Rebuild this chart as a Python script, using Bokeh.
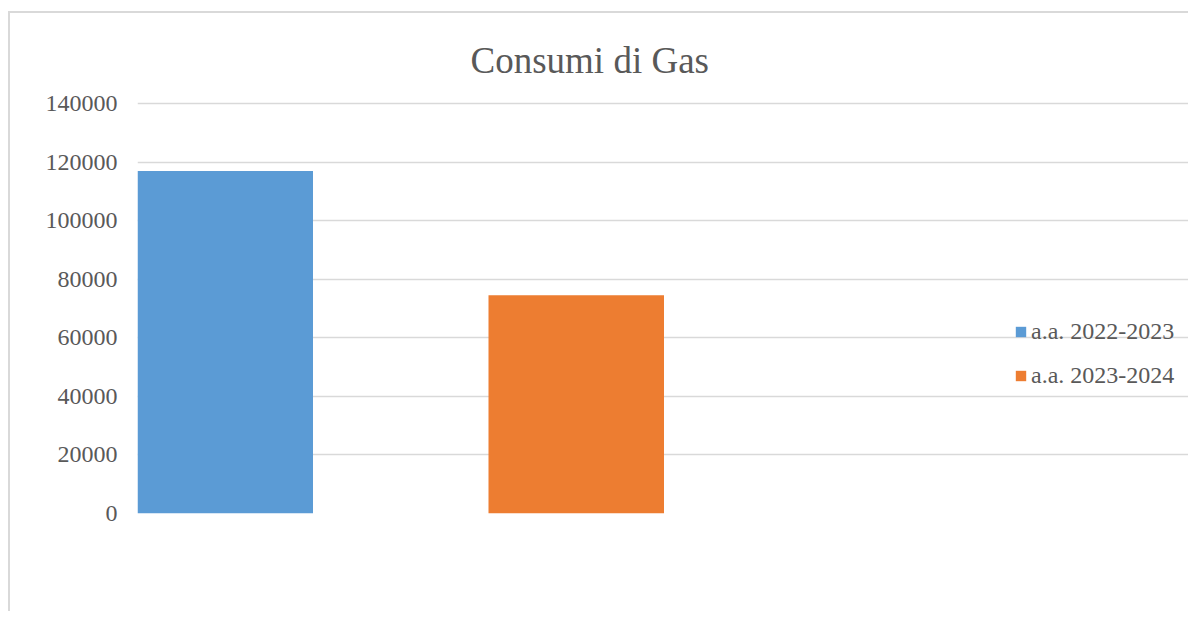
from bokeh.plotting import figure
from bokeh.models import ColumnDataSource, FactorRange, Range1d, Title, Legend, LegendItem, FixedTicker, BasicTickFormatter
from bokeh.transform import dodge
from bokeh.embed import file_html
from bokeh.resources import INLINE

# ---- data ----
title_text = "Consumi di Gas"
categories = ["a.a. 2022-2023", "a.a. 2023-2024"]
consumi = [117000, 74500]
colors = ["#5B9BD5", "#ED7D31"]
slots = categories + ["extra"]
y_ticks = [0, 20000, 40000, 60000, 80000, 100000, 120000, 140000]

FONT = "Liberation Serif"
TXT = "#595959"
GRID = "#D9D9D9"

p = figure(width=1180, height=600, output_backend="svg", toolbar_location=None,
           x_range=FactorRange(factors=slots, range_padding=0),
           y_range=Range1d(0, 140700),
           min_border_left=127, min_border_right=0, min_border_top=88, min_border_bottom=100)
p.styles = {"border-left": "2px solid #D9D9D9", "border-top": "2px solid #D9D9D9",
            "margin-top": "11px", "margin-left": "8px"}
p.outline_line_color = None
p.background_fill_color = "white"
p.border_fill_color = "white"

renderers = []
for cat, val, col in zip(categories, consumi, colors):
    src = ColumnDataSource(dict(cat=[cat], val=[val]))
    r = p.vbar(x=dodge("cat", -0.25, range=p.x_range), top="val", width=0.5, bottom=0,
               source=src, fill_color=col, line_color=None)
    renderers.append(r)

p.xaxis.visible = False
p.xgrid.grid_line_color = None
p.ygrid.grid_line_color = GRID
p.ygrid.grid_line_width = 1.5
p.ygrid.ticker = FixedTicker(ticks=y_ticks)

ax = p.yaxis[0]
ax.ticker = FixedTicker(ticks=y_ticks)
ax.formatter = BasicTickFormatter(use_scientific=False)
ax.axis_line_color = None
ax.major_tick_line_color = None
ax.minor_tick_line_color = None
ax.major_tick_out = 0
ax.major_label_standoff = 20
ax.major_label_text_font = FONT
ax.major_label_text_font_size = "24px"
ax.major_label_text_color = TXT

legend = Legend(items=[LegendItem(label=c, renderers=[r]) for c, r in zip(categories, renderers)],
                location=(877, 124), orientation="vertical",
                label_text_font=FONT, label_text_font_size="24px", label_text_color=TXT,
                glyph_width=13, glyph_height=13, label_standoff=4, spacing=17,
                padding=0, margin=0, border_line_color=None, background_fill_alpha=0,
                label_height=13)
p.add_layout(legend)

p.add_layout(Title(text=title_text, align="left", offset=333, standoff=41,
                   text_font=FONT, text_font_size="37px", text_font_style="normal",
                   text_color=TXT), "above")

open("out.html", "w").write(file_html(p, INLINE))
